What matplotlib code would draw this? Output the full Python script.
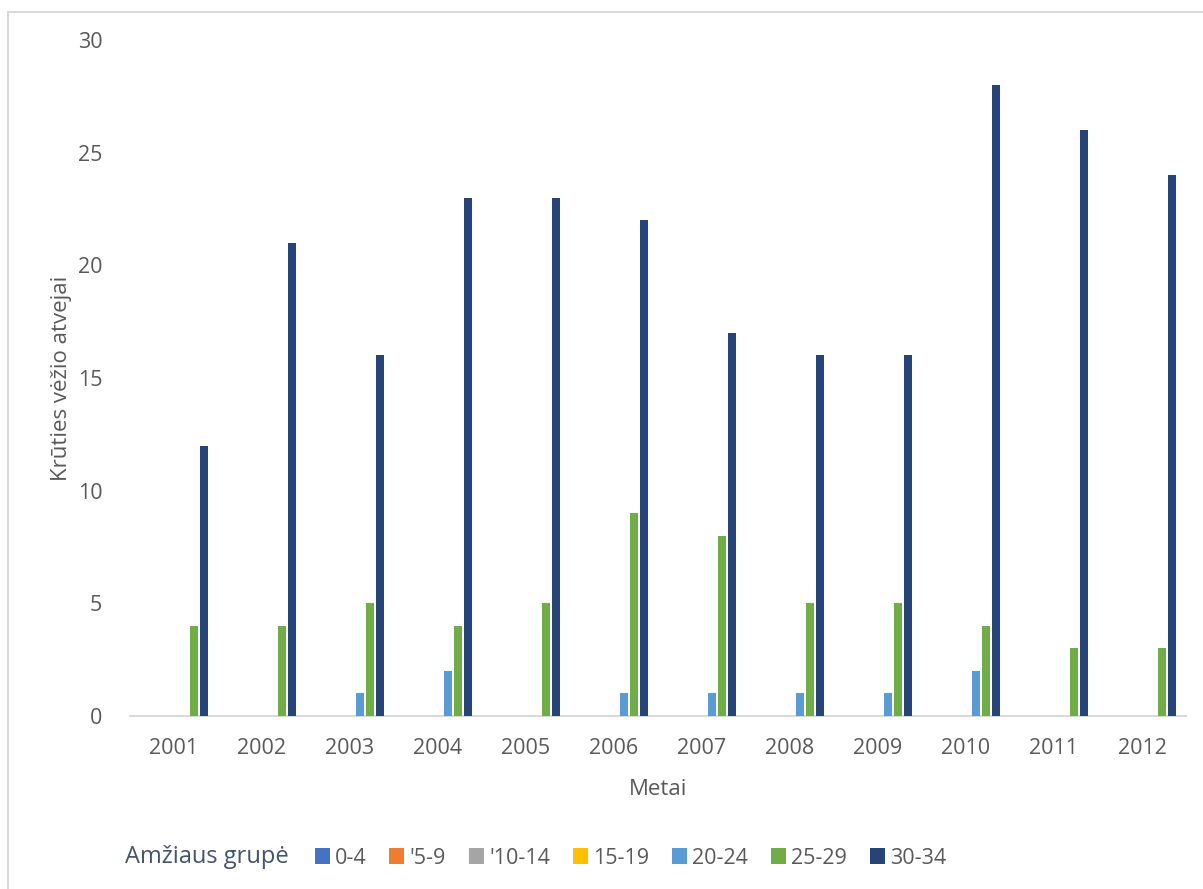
import matplotlib.pyplot as plt
import numpy as np
from matplotlib.patches import Rectangle, Patch

plt.rcParams['font.family'] = ['Open Sans', 'DejaVu Sans']

years = ['2001', '2002', '2003', '2004', '2005', '2006',
         '2007', '2008', '2009', '2010', '2011', '2012']
groups = ['0-4', "'5-9", "'10-14", '15-19', '20-24', '25-29', '30-34']
colors = ['#4472C4', '#ED7D31', '#A5A5A5', '#FFC000', '#5B9BD5', '#70AD47', '#264478']

# cases per age group and year
g0_4 = [0, 0, 0, 0, 0, 0, 0, 0, 0, 0, 0, 0]
g5_9 = [0, 0, 0, 0, 0, 0, 0, 0, 0, 0, 0, 0]
g10_14 = [0, 0, 0, 0, 0, 0, 0, 0, 0, 0, 0, 0]
g15_19 = [0, 0, 0, 0, 0, 0, 0, 0, 0, 0, 0, 0]
g20_24 = [0, 0, 1, 2, 0, 1, 1, 1, 1, 2, 0, 0]
g25_29 = [4, 4, 5, 4, 5, 9, 8, 5, 5, 4, 3, 3]
g30_34 = [12, 21, 16, 23, 23, 22, 17, 16, 16, 28, 26, 24]
series = [g0_4, g5_9, g10_14, g15_19, g20_24, g25_29, g30_34]

txt = '#595959'
W, H = 1203, 889
fig = plt.figure(figsize=(W / 100, H / 100), dpi=100)
ax = fig.add_axes([130 / W, 1 - 716 / H, 1056 / W, 676 / H])

x = np.arange(len(years))
slot = 0.114
for i, vals in enumerate(series):
    ax.bar(x + (i - 3) * slot, vals, width=slot * 0.85, color=colors[i],
           linewidth=0, zorder=3)

ax.set_xlim(-0.5, len(years) - 0.5)
ax.set_ylim(0, 30)
ax.set_yticks(range(0, 31, 5))
ax.set_xticks(x)
ax.set_xticklabels(years)
ax.tick_params(length=0, labelsize=15.5, colors=txt)
ax.tick_params(axis='x', pad=16)
ax.tick_params(axis='y', pad=20)
for s in ['top', 'right', 'left']:
    ax.spines[s].set_visible(False)
ax.spines['bottom'].set_color('#D9D9D9')
ax.spines['bottom'].set_linewidth(1.5)

ax.set_xlabel('Metai', fontsize=16, color=txt, labelpad=14)
ax.set_ylabel('Krūties vėžio atvejai', fontsize=16, color=txt, labelpad=4)

# legend along the bottom, title placed on the left
fig.text(125 / W, 1 - 857 / H, 'Amžiaus grupė', fontsize=17, color='#44546A',
         va='center', ha='left')
handles = [Patch(facecolor=c, edgecolor='none') for c in colors]
fig.legend(handles, groups, loc='center left', bbox_to_anchor=(306 / W, 1 - 858 / H),
           ncol=7, frameon=False, fontsize=15.5, labelcolor=txt,
           handlelength=0.7, handleheight=0.7, handletextpad=0.25,
           columnspacing=1.05, borderaxespad=0)

# outer chart frame
fig.patches.append(Rectangle((8 / W, -0.05), 1.1, 1 - 12 / H + 0.05,
                             transform=fig.transFigure, fill=False,
                             edgecolor='#D9D9D9', linewidth=1.5))

fig.savefig('out.png', dpi=100)
